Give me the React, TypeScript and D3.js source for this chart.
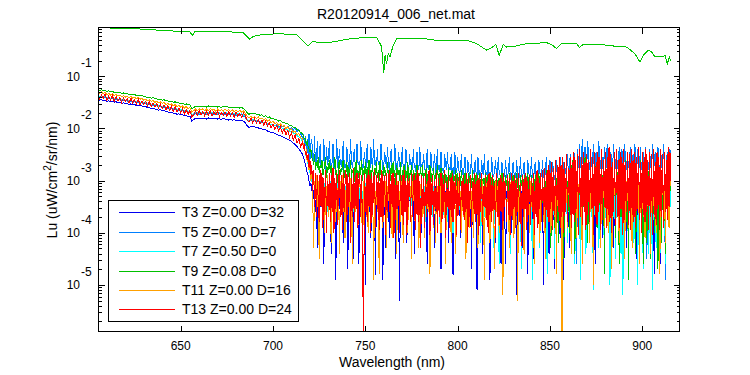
import React from 'react';
import * as d3 from 'd3';

const TITLE = 'R20120914_006_net.mat';
const X_LABEL = 'Wavelength (nm)';
const X_TICKS = [650, 700, 750, 800, 850, 900];
const Y_DECADES = [-1, -2, -3, -4, -5];
const X_DOMAIN = [605.2, 919.9];
const Y_LOG_DOMAIN = [-5.883, -0.056];

// wavelength grid of the sensor spectra (nm): 1 nm up to 715, 0.5 nm from 716
const WL = [...d3.range(605, 716, 1), ...d3.range(716, 916, 0.5)];

const LEGEND = ['T3 Z=0.00 D=32','T5 Z=0.00 D=7','T7 Z=0.50 D=0','T9 Z=0.08 D=0','T11 Z=0.00 D=16','T13 Z=0.00 D=24'];
const COLORS = ['#0000f0', '#0080ff', '#00ffff', '#00c000', '#ffa000', '#ff0000'];
const TOP_COLOR = '#00c800';

// log10(Lu) values
const t3 = [
  -1.44,-1.46,-1.45,-1.47,-1.46,-1.48,-1.47,-1.49,-1.48,-1.50,
  -1.49,-1.51,-1.50,-1.52,-1.51,-1.53,-1.52,-1.54,-1.53,-1.55,
  -1.54,-1.56,-1.55,-1.57,-1.57,-1.59,-1.58,-1.60,-1.60,-1.62,
  -1.61,-1.63,-1.63,-1.65,-1.64,-1.66,-1.66,-1.68,-1.68,-1.70,
  -1.69,-1.71,-1.71,-1.73,-1.72,-1.74,-1.74,-1.76,-1.75,-1.77,
  -1.77,-1.86,-1.83,-1.81,-1.80,-1.82,-1.80,-1.81,-1.80,-1.82,
  -1.80,-1.81,-1.80,-1.82,-1.81,-1.82,-1.81,-1.83,-1.81,-1.82,
  -1.82,-1.84,-1.83,-1.84,-1.83,-1.85,-1.84,-1.85,-1.84,-1.86,
  -1.89,-1.95,-1.98,-1.96,-1.97,-1.97,-1.99,-1.99,-2.01,-2.01,
  -2.03,-2.03,-2.05,-2.06,-2.08,-2.08,-2.10,-2.11,-2.13,-2.14,
  -2.16,-2.17,-2.19,-2.21,-2.23,-2.25,-2.28,-2.31,-2.35,-2.39,-2.44,
  -2.5,-2.55,-2.6,-2.7,-2.75,-2.85,-2.9,-3.0,-3.1,-3.05,
  -3.2,-3.1,-3.35,-3.15,-3.6,-3.2,-4.3,-3.1,-3.4,-3.2,
  -3.5,-3.1,-3.3,-4.6,-3.2,-3.45,-3.1,-3.6,-3.2,-3.35,
  -3.1,-4.4,-3.2,-3.5,-3.15,-3.3,-4.9,-3.2,-3.45,-3.1,
  -3.55,-3.2,-3.35,-3.1,-4.2,-3.2,-3.5,-3.15,-3.3,-4.7,
  -3.2,-3.4,-3.1,-3.6,-3.2,-4.5,-3.15,-3.35,-3.2,-3.5,
  -3.1,-4.6,-3.2,-3.4,-3.15,-3.55,-3.2,-3.3,-5.0,-3.1,
  -3.45,-3.2,-3.6,-3.15,-4.1,-3.2,-3.35,-3.1,-3.5,-4.8,
  -3.2,-3.4,-3.15,-4.4,-3.2,-3.6,-3.1,-4.9,-3.2,-3.35,
  -4.3,-3.15,-3.5,-3.2,-4.1,-3.1,-3.4,-3.2,-3.55,-3.15,
  -3.3,-4.5,-3.2,-3.45,-3.1,-5.3,-3.2,-3.35,-3.15,-3.6,
  -3.2,-3.4,-3.1,-4.2,-3.2,-3.5,-3.15,-3.3,-3.2,-3.55,
  -3.1,-4.4,-3.2,-3.35,-3.15,-3.6,-3.2,-3.4,-3.1,-4.0,
  -3.2,-3.5,-3.15,-3.3,-3.2,-4.6,-3.1,-3.45,-3.2,-3.35,
  -3.15,-3.6,-3.2,-4.3,-3.1,-3.4,-3.2,-3.5,-3.15,-3.3,
  -4.7,-3.2,-3.45,-3.1,-3.6,-3.2,-3.35,-3.15,-4.2,-3.2,
  -3.5,-3.1,-3.3,-4.8,-3.2,-3.45,-3.15,-3.6,-3.2,-3.35,
  -3.1,-4.1,-3.2,-3.5,-3.15,-3.3,-3.2,-4.5,-3.1,-3.4,
  -3.2,-3.55,-3.15,-4.7,-3.2,-3.35,-3.1,-3.6,-3.2,-5.1,
  -3.15,-3.45,-3.2,-3.3,-3.1,-4.4,-3.2,-3.5,-3.15,-3.35,
  -3.2,-3.6,-3.1,-4.9,-3.2,-3.4,-3.15,-3.5,-3.2,-4.2,
  -3.1,-3.35,-3.2,-3.55,-3.15,-4.6,-3.2,-3.4,-3.1,-3.6,
  -4.6,-3.2,-3.35,-3.15,-3.5,-3.2,-4.0,-3.1,-3.45,-3.2,
  -3.6,-3.15,-5.2,-3.2,-3.4,-3.1,-3.55,-3.2,-4.3,-3.15,
  -3.35,-3.2,-3.5,-3.1,-4.8,-3.2,-3.45,-3.15,-3.6,-3.2,
  -4.5,-3.1,-3.4,-3.2,-3.55,-3.15,-3.3,-4.2,-3.2,-3.5,
  -3.1,-5.0,-3.2,-3.4,-3.15,-3.6,-3.2,-4.4,-3.1,-3.35,
  -3.2,-3.55,-3.15,-4.7,-3.2,-3.4,-3.1,-3.6,-3.2,-4.1,
  -3.15,-3.45,-3.2,-4.9,-3.1,-3.5,-3.2,-3.35,-3.15,-4.3,
  -3.2,-3.6,-3.1,-3.4,-3.2,-4.5,-3.15,-3.5,-3.2,-3.3,
  -3.1,-4.2,-3.2,-3.55,-3.15,-3.4,-3.2,-3.6,-3.1,-4.0,
  -3.2,-3.45,-3.15,-3.3,-3.2,-3.55,-3.1,-4.6,-3.2,-3.4,
  -3.15,-3.6,-3.2,-3.35,-3.1,-4.1,-3.2,-3.5,-3.15,-3.4,
  -3.2,-3.55,-3.1,-3.7,-3.2,-3.4,-3.15,-4.3,-3.2,-3.5,
  -3.1,-3.45,-3.2,-3.6,-3.15,-3.35,-3.2,-3.8,-3.1,-3.5,
  -3.2,-4.3,-3.15,-3.4,-3.2,-3.55,-3.1,-3.35,-3.2,-3.6,
  -3.15,-3.4,-4.5,-3.2,-3.5,-3.1,-3.6,-3.2,-3.35,-4.0,
  -3.2,-3.55,-3.1,-3.4,-3.2,-3.6,-3.15,-3.45,-3.2,-3.5,
  -3.1,-4.8,-3.2,-3.35,-3.15,-3.55,-3.2,-3.4,-4.6,-3.2,
  -3.15,-3.5,-3.2,-3.6,-3.1,-3.4,-3.2,-3.55,-3.15,-3.3,
];
const t5 = [
  -1.39,-1.41,-1.40,-1.42,-1.41,-1.43,-1.42,-1.44,-1.43,-1.45,
  -1.44,-1.46,-1.45,-1.47,-1.46,-1.48,-1.47,-1.49,-1.48,-1.50,
  -1.49,-1.51,-1.50,-1.52,-1.51,-1.53,-1.53,-1.55,-1.54,-1.56,
  -1.55,-1.57,-1.57,-1.59,-1.58,-1.60,-1.59,-1.61,-1.61,-1.63,
  -1.62,-1.64,-1.63,-1.65,-1.65,-1.67,-1.66,-1.68,-1.67,-1.69,
  -1.69,-1.76,-1.74,-1.72,-1.71,-1.73,-1.71,-1.72,-1.71,-1.73,
  -1.71,-1.72,-1.71,-1.73,-1.72,-1.73,-1.72,-1.74,-1.72,-1.73,
  -1.72,-1.74,-1.73,-1.74,-1.73,-1.75,-1.74,-1.75,-1.74,-1.76,
  -1.79,-1.84,-1.87,-1.85,-1.86,-1.85,-1.87,-1.87,-1.89,-1.88,
  -1.90,-1.89,-1.92,-1.91,-1.93,-1.92,-1.94,-1.93,-1.96,-1.95,
  -1.97,-1.95,-2.00,-1.96,-2.01,-1.98,-2.03,-1.99,-2.06,-2.02,-2.10,
  -2.2,-2.1,-2.3,-2.15,-2.4,-2.2,-2.5,-2.1,-2.6,-2.3,
  -2.2,-2.6,-2.7,-2.15,-2.75,-2.6,-2.25,-2.7,-2.65,-2.3,
  -2.75,-2.6,-2.7,-2.2,-2.65,-2.8,-2.35,-2.7,-2.6,-2.25,
  -2.7,-2.75,-2.65,-2.3,-2.8,-2.6,-2.7,-2.2,-2.75,-2.65,
  -2.4,-2.7,-2.6,-2.8,-2.25,-2.65,-2.75,-2.7,-2.35,-2.6,
  -2.8,-2.7,-2.2,-2.65,-2.75,-2.6,-2.4,-2.7,-2.8,-2.3,
  -2.65,-2.7,-2.75,-2.25,-2.6,-2.8,-2.7,-2.45,-2.65,-2.75,
  -2.3,-2.7,-2.6,-2.8,-2.35,-2.65,-2.75,-2.2,-2.7,-2.6,
  -2.8,-2.4,-2.7,-2.65,-2.75,-2.3,-2.6,-2.8,-2.7,-2.45,
  -2.65,-2.75,-2.35,-2.7,-2.8,-2.6,-2.4,-2.75,-2.7,-2.65,
  -2.3,-2.8,-2.7,-2.75,-2.45,-2.65,-2.8,-2.7,-2.35,-2.75,
  -2.7,-2.8,-2.4,-2.65,-2.75,-2.8,-2.5,-2.7,-2.65,-2.8,
  -2.4,-2.75,-2.7,-2.85,-2.45,-2.7,-2.8,-2.35,-2.75,-2.7,
  -2.8,-2.5,-2.7,-2.85,-2.75,-2.4,-2.8,-2.7,-2.85,-2.45,
  -2.75,-2.8,-2.7,-2.5,-2.85,-2.75,-2.4,-2.8,-2.7,-2.85,
  -2.45,-2.75,-2.8,-2.85,-2.5,-2.7,-2.8,-2.45,-2.85,-2.75,
  -2.8,-2.5,-2.85,-2.75,-2.9,-2.45,-2.8,-2.85,-2.55,-2.75,
  -2.9,-2.8,-2.5,-2.85,-2.9,-2.75,-2.55,-2.85,-2.9,-2.6,
  -2.8,-2.9,-2.85,-2.5,-2.95,-2.8,-2.9,-2.6,-2.85,-2.95,
  -2.55,-2.9,-2.8,-2.95,-2.6,-2.85,-2.9,-2.5,-2.95,-2.85,
  -2.9,-2.6,-2.95,-2.85,-2.9,-2.55,-2.95,-2.9,-2.85,-2.6,
  -2.9,-2.95,-2.55,-2.85,-2.9,-3.0,-2.65,-2.9,-2.95,-2.85,
  -2.6,-2.95,-2.9,-2.85,-2.55,-2.95,-3.0,-2.9,-2.65,-2.85,
  -2.95,-2.9,-2.6,-3.0,-2.85,-2.95,-2.55,-2.9,-2.95,-2.85,
  -2.65,-2.95,-2.9,-3.0,-2.6,-2.85,-2.95,-2.9,-2.55,-2.95,
  -2.9,-2.85,-2.65,-2.95,-3.0,-2.9,-2.6,-2.85,-2.95,-2.9,
  -2.6,-2.95,-2.85,-2.9,-2.55,-3.0,-2.9,-2.85,-2.6,-2.95,
  -2.9,-2.65,-2.85,-2.95,-2.9,-2.6,-2.95,-2.85,-2.9,-2.55,
  -2.9,-2.85,-2.95,-2.65,-2.9,-2.8,-2.85,-2.5,-2.9,-2.8,
  -2.5,-2.8,-2.75,-2.85,-2.45,-2.8,-2.7,-4.6,-2.4,-2.75,
  -2.3,-2.75,-2.7,-2.2,-2.8,-2.7,-2.35,-2.75,-2.65,-2.25,
  -2.7,-2.8,-2.4,-2.7,-2.75,-2.3,-2.8,-2.7,-2.45,-2.75,
  -2.7,-2.25,-2.8,-2.7,-2.4,-2.75,-2.8,-2.35,-2.7,-2.75,
  -2.3,-2.8,-2.7,-4.8,-2.45,-2.75,-2.7,-2.3,-2.8,-2.75,
  -2.45,-2.7,-2.8,-2.35,-2.75,-2.7,-2.4,-2.8,-2.75,-2.3,
  -2.7,-2.8,-2.45,-2.75,-2.7,-2.35,-2.8,-2.75,-2.5,-2.7,
  -2.3,-2.75,-2.8,-2.4,-2.7,-2.75,-2.35,-2.8,-2.7,-2.45,
  -2.75,-2.7,-2.35,-4.5,-2.8,-2.75,-2.4,-2.7,-2.8,-2.3,
  -2.75,-2.7,-2.45,-2.8,-2.75,-2.35,-2.7,-2.8,-2.4,-2.75,
  -2.7,-2.3,-2.8,-4.9,-2.75,-2.45,-2.7,-2.8,-2.4,-2.6,
];
const t7 = [
  -1.37,-1.39,-1.38,-1.40,-1.39,-1.41,-1.40,-1.42,-1.41,-1.43,
  -1.42,-1.44,-1.43,-1.45,-1.44,-1.46,-1.45,-1.47,-1.46,-1.48,
  -1.47,-1.49,-1.48,-1.50,-1.49,-1.51,-1.51,-1.53,-1.52,-1.54,
  -1.53,-1.55,-1.55,-1.57,-1.56,-1.58,-1.57,-1.59,-1.59,-1.61,
  -1.60,-1.62,-1.61,-1.63,-1.63,-1.65,-1.64,-1.66,-1.65,-1.67,
  -1.67,-1.74,-1.72,-1.70,-1.69,-1.71,-1.69,-1.70,-1.69,-1.71,
  -1.69,-1.70,-1.69,-1.71,-1.70,-1.71,-1.70,-1.72,-1.70,-1.71,
  -1.70,-1.72,-1.71,-1.72,-1.71,-1.73,-1.72,-1.73,-1.72,-1.74,
  -1.77,-1.82,-1.85,-1.83,-1.84,-1.83,-1.85,-1.85,-1.87,-1.86,
  -1.89,-1.88,-1.91,-1.90,-1.93,-1.92,-1.95,-1.95,-1.98,-1.97,
  -2.00,-2.00,-2.03,-2.03,-2.06,-2.06,-2.10,-2.10,-2.14,-2.16,-2.20,
  -2.25,-2.3,-2.4,-2.45,-2.55,-2.6,-2.7,-2.75,-2.85,-2.9,
  -3.0,-3.1,-2.95,-3.2,-3.05,-3.3,-3.0,-3.25,-3.1,-3.4,
  -3.0,-3.3,-3.1,-3.5,-3.05,-3.35,-3.2,-3.6,-3.1,-3.3,
  -3.0,-3.45,-3.15,-3.3,-3.05,-3.55,-3.2,-3.35,-3.0,-3.5,
  -3.15,-3.4,-3.05,-3.6,-3.2,-3.3,-3.1,-3.5,-3.0,-3.4,
  -3.2,-3.55,-3.05,-3.35,-3.15,-3.6,-3.1,-3.3,-3.2,-3.5,
  -3.05,-3.4,-3.15,-3.65,-3.1,-3.35,-3.2,-3.5,-3.05,-3.45,
  -3.15,-3.6,-3.1,-3.3,-3.2,-3.55,-3.05,-3.4,-3.15,-3.7,
  -3.1,-3.35,-3.2,-3.5,-3.05,-3.45,-3.15,-3.6,-3.1,-3.4,
  -3.2,-3.55,-3.1,-3.3,-3.15,-3.65,-3.05,-3.4,-3.2,-3.5,
  -3.1,-3.45,-3.2,-3.7,-3.1,-3.35,-3.15,-3.55,-3.05,-3.4,
  -3.2,-3.6,-3.1,-3.4,-3.15,-3.5,-3.1,-3.75,-3.2,-3.35,
  -3.1,-3.5,-3.2,-3.4,-3.05,-3.65,-3.15,-3.45,-3.1,-3.6,
  -3.2,-3.4,-3.1,-3.8,-3.15,-3.5,-3.2,-3.35,-3.1,-3.55,
  -3.15,-3.7,-3.1,-3.45,-3.2,-3.6,-3.1,-3.4,-3.2,-3.9,
  -3.1,-3.5,-3.2,-3.65,-3.15,-3.4,-3.1,-3.8,-3.2,-3.5,
  -3.15,-3.6,-3.1,-4.0,-3.2,-3.45,-3.15,-3.7,-3.1,-3.5,
  -3.2,-3.85,-3.15,-3.5,-3.1,-3.65,-3.2,-4.1,-3.15,-3.45,
  -3.1,-3.7,-3.2,-3.5,-3.15,-3.95,-3.1,-3.6,-3.2,-3.45,
  -3.15,-3.8,-3.1,-4.2,-3.2,-3.55,-3.15,-3.7,-3.1,-3.5,
  -3.2,-3.5,-3.15,-3.6,-3.1,-3.45,-3.2,-4.3,-3.15,-3.6,
  -3.1,-3.55,-3.2,-4.6,-3.15,-3.5,-3.1,-3.7,-3.2,-3.4,
  -3.15,-3.6,-3.1,-3.45,-3.2,-4.4,-3.15,-3.55,-3.1,-3.5,
  -3.2,-3.6,-3.15,-3.4,-3.1,-3.65,-3.2,-4.7,-3.15,-3.5,
  -3.1,-3.45,-3.2,-3.7,-3.15,-3.5,-3.1,-3.6,-3.2,-4.9,
  -3.15,-3.6,-3.1,-3.45,-3.2,-3.75,-3.15,-4.3,-3.1,-3.5,
  -3.2,-3.65,-3.15,-3.5,-3.1,-4.8,-3.2,-3.55,-3.1,-3.6,
  -3.15,-3.45,-3.1,-4.5,-3.2,-3.6,-3.05,-3.5,-3.15,-3.7,
  -3.1,-4.7,-3.15,-3.55,-3.05,-3.6,-3.1,-4.2,-3.15,-3.5,
  -3.05,-3.65,-3.15,-3.5,-3.1,-4.6,-3.05,-3.55,-3.15,-3.7,
  -3.1,-4.9,-3.05,-3.6,-3.15,-3.5,-3.1,-4.4,-3.05,-3.65,
  -3.15,-3.55,-3.1,-3.7,-3.05,-5.1,-3.15,-3.5,-3.1,-3.6,
  -3.05,-4.3,-3.15,-3.55,-3.1,-3.65,-3.05,-4.8,-3.15,-3.5,
  -3.1,-3.6,-3.05,-5.0,-3.15,-3.55,-3.1,-3.7,-3.05,-4.5,
  -3.15,-3.6,-3.1,-3.5,-3.05,-4.4,-3.15,-5.2,-3.1,-3.6,
  -3.05,-3.55,-3.15,-4.6,-3.1,-3.7,-3.05,-3.5,-3.15,-4.2,
  -3.1,-3.6,-3.05,-5.0,-3.15,-3.55,-3.1,-3.65,-3.05,-4.7,
  -3.15,-3.5,-3.1,-3.7,-3.05,-4.4,-3.15,-3.6,-3.1,-5.1,
  -3.05,-3.55,-3.15,-4.3,-3.1,-3.65,-3.05,-4.8,-3.15,-3.5,
  -3.1,-3.6,-3.05,-4.6,-3.15,-3.55,-3.1,-3.7,-3.05,-3.5,
];
const t9 = [
  -1.25,-1.27,-1.26,-1.28,-1.27,-1.29,-1.28,-1.30,-1.29,-1.31,
  -1.30,-1.32,-1.31,-1.33,-1.32,-1.34,-1.33,-1.35,-1.34,-1.36,
  -1.35,-1.37,-1.36,-1.38,-1.37,-1.39,-1.39,-1.41,-1.40,-1.42,
  -1.41,-1.43,-1.43,-1.45,-1.44,-1.46,-1.45,-1.47,-1.47,-1.49,
  -1.48,-1.50,-1.49,-1.51,-1.51,-1.53,-1.52,-1.54,-1.53,-1.55,
  -1.55,-1.62,-1.60,-1.58,-1.57,-1.59,-1.57,-1.58,-1.57,-1.59,
  -1.57,-1.58,-1.57,-1.59,-1.58,-1.59,-1.58,-1.60,-1.58,-1.59,
  -1.58,-1.60,-1.59,-1.60,-1.59,-1.61,-1.60,-1.61,-1.60,-1.62,
  -1.65,-1.70,-1.73,-1.71,-1.72,-1.71,-1.73,-1.73,-1.75,-1.74,
  -1.77,-1.76,-1.79,-1.78,-1.81,-1.80,-1.83,-1.83,-1.86,-1.85,
  -1.88,-1.88,-1.91,-1.91,-1.94,-1.94,-1.98,-1.98,-2.02,-2.04,-2.08,
  -2.1,-2.15,-2.2,-2.2,-2.3,-2.25,-2.35,-2.4,-2.45,-2.4,
  -2.55,-2.6,-2.7,-2.5,-2.8,-2.65,-2.75,-2.55,-2.85,-2.7,
  -2.75,-2.6,-2.9,-2.8,-2.7,-2.55,-2.95,-2.75,-2.8,-2.6,
  -2.85,-2.7,-3.0,-2.8,-2.75,-2.55,-2.9,-2.8,-3.05,-2.7,
  -2.6,-2.9,-2.8,-2.75,-2.6,-2.95,-2.8,-2.85,-2.65,-3.0,
  -2.75,-2.9,-2.6,-2.95,-2.8,-2.85,-2.75,-3.1,-2.6,-2.85,
  -2.8,-2.95,-2.7,-2.9,-2.6,-3.0,-2.8,-2.85,-2.65,-2.95,
  -2.75,-2.9,-2.6,-3.0,-2.8,-2.85,-2.7,-3.1,-2.75,-2.9,
  -2.65,-2.95,-2.8,-3.0,-2.6,-2.9,-2.8,-2.95,-2.7,-2.85,
  -2.8,-3.05,-2.65,-2.9,-2.85,-3.0,-2.7,-2.9,-2.65,-2.95,
  -2.8,-3.1,-2.7,-2.9,-2.8,-3.0,-2.65,-3.15,-2.8,-2.9,
  -2.7,-3.0,-2.8,-2.95,-2.65,-3.05,-2.85,-2.9,-2.7,-3.0,
  -2.8,-2.95,-2.85,-3.1,-2.7,-3.0,-2.85,-2.9,-2.75,-3.05,
  -2.7,-3.0,-2.85,-2.95,-2.75,-3.15,-2.85,-3.0,-2.7,-3.05,
  -2.85,-2.95,-2.75,-3.1,-2.85,-3.0,-2.7,-2.95,-2.85,-3.2,
  -2.75,-3.0,-2.85,-3.1,-2.8,-3.05,-2.9,-3.15,-2.75,-3.0,
  -2.85,-3.05,-2.8,-3.25,-2.9,-3.0,-2.8,-3.1,-2.85,-3.05,
  -2.9,-3.1,-2.8,-3.0,-2.95,-3.2,-2.85,-3.05,-2.9,-3.3,
  -2.85,-3.05,-2.95,-3.15,-2.8,-3.1,-2.9,-3.25,-2.85,-3.05,
  -2.95,-3.1,-2.85,-3.3,-2.9,-3.05,-2.95,-3.15,-2.85,-3.1,
  -2.9,-3.2,-2.95,-3.05,-2.85,-3.35,-2.9,-3.1,-3.0,-3.15,
  -2.85,-3.1,-2.95,-3.4,-2.9,-3.15,-2.85,-3.05,-3.0,-3.25,
  -2.9,-3.1,-2.95,-3.3,-2.85,-3.15,-3.0,-3.5,-2.9,-3.1,
  -2.95,-3.2,-2.85,-3.15,-3.0,-3.35,-2.9,-3.1,-2.95,-3.6,
  -2.9,-3.15,-3.0,-3.3,-2.85,-3.2,-2.95,-3.7,-2.9,-3.15,
  -3.0,-3.3,-2.9,-3.15,-2.95,-3.4,-2.85,-3.25,-3.0,-3.8,
  -2.85,-3.4,-2.95,-3.6,-2.8,-3.3,-2.9,-3.8,-2.85,-4.3,
  -2.8,-3.5,-2.75,-3.9,-2.85,-3.4,-2.7,-4.2,-2.8,-3.6,
  -2.75,-3.3,-2.7,-4.5,-2.8,-3.6,-2.65,-3.4,-2.75,-4.0,
  -2.7,-3.7,-2.6,-3.35,-2.75,-4.4,-2.65,-3.5,-2.7,-3.9,
  -2.6,-3.4,-2.7,-4.6,-2.65,-3.6,-2.55,-3.3,-2.7,-4.2,
  -2.65,-3.8,-2.6,-3.45,-2.7,-4.7,-2.6,-3.5,-2.65,-3.9,
  -2.6,-3.6,-2.7,-4.3,-2.55,-3.4,-2.65,-4.8,-2.6,-3.5,
  -2.7,-3.9,-2.6,-3.45,-2.65,-4.4,-2.7,-3.6,-2.55,-4.1,
  -2.65,-3.5,-2.6,-4.6,-2.7,-3.7,-2.6,-3.4,-2.65,-4.3,
  -2.6,-3.8,-2.7,-4.9,-2.65,-3.5,-2.6,-4.0,-2.7,-3.6,
  -2.65,-4.4,-2.6,-3.5,-2.7,-4.1,-2.6,-3.7,-2.65,-4.6,
  -2.7,-3.6,-2.6,-4.2,-2.65,-3.4,-2.7,-4.5,-2.6,-3.8,
  -2.65,-4.0,-2.7,-3.5,-2.6,-4.7,-2.65,-3.6,-2.7,-4.2,
  -2.6,-3.7,-2.65,-4.4,-2.7,-3.5,-2.6,-3.9,-2.65,-3.2,
];
const t11 = [
  -1.29,-1.33,-1.30,-1.34,-1.31,-1.35,-1.33,-1.36,-1.34,-1.37,
  -1.35,-1.38,-1.36,-1.39,-1.37,-1.40,-1.38,-1.41,-1.39,-1.42,
  -1.40,-1.43,-1.41,-1.44,-1.42,-1.46,-1.44,-1.47,-1.45,-1.48,
  -1.46,-1.50,-1.48,-1.51,-1.49,-1.52,-1.50,-1.54,-1.52,-1.55,
  -1.53,-1.57,-1.54,-1.58,-1.56,-1.59,-1.57,-1.61,-1.58,-1.62,
  -1.60,-1.69,-1.66,-1.63,-1.66,-1.62,-1.65,-1.62,-1.66,-1.63,
  -1.66,-1.62,-1.65,-1.63,-1.67,-1.63,-1.66,-1.64,-1.67,-1.63,
  -1.66,-1.64,-1.67,-1.64,-1.68,-1.65,-1.68,-1.65,-1.69,-1.66,
  -1.71,-1.77,-1.80,-1.77,-1.80,-1.77,-1.81,-1.78,-1.82,-1.80,
  -1.84,-1.81,-1.86,-1.84,-1.89,-1.86,-1.91,-1.89,-1.94,-1.91,
  -1.96,-1.94,-2.00,-1.97,-2.03,-2.01,-2.07,-2.05,-2.12,-2.10,-2.18,
  -2.2,-2.35,-2.3,-2.5,-2.4,-2.65,-2.55,-2.8,-2.7,-3.0,
  -2.8,-3.3,-4.3,-3.0,-3.2,-2.9,-3.5,-3.0,-4.5,-3.1,
  -3.4,-2.95,-3.6,-3.1,-4.0,-3.0,-3.3,-2.9,-3.7,-3.1,
  -3.2,-4.2,-3.0,-3.5,-2.95,-3.3,-3.8,-3.0,-3.4,-3.1,
  -4.4,-3.0,-3.3,-2.9,-3.6,-3.1,-4.1,-3.2,-3.0,-3.5,
  -3.1,-3.8,-2.95,-3.4,-4.6,-3.0,-3.2,-3.6,-3.0,-3.3,
  -3.9,-3.1,-3.0,-3.5,-3.2,-4.7,-3.0,-3.4,-3.1,-3.7,
  -3.0,-4.0,-3.2,-3.3,-3.0,-3.8,-3.1,-4.9,-3.0,-3.4,
  -3.2,-3.6,-3.0,-4.8,-3.1,-3.3,-3.0,-3.9,-3.2,-3.5,
  -3.0,-4.3,-3.1,-3.4,-3.0,-3.7,-3.2,-4.1,-3.0,-3.3,
  -3.5,-3.1,-4.4,-3.0,-3.3,-3.2,-3.8,-3.0,-3.4,-4.2,
  -3.1,-3.0,-3.6,-3.2,-4.0,-3.0,-3.3,-3.1,-4.5,-3.0,
  -3.4,-3.2,-3.9,-3.0,-3.5,-3.1,-4.3,-3.0,-3.3,-3.2,
  -3.7,-3.0,-4.1,-3.1,-3.4,-3.0,-3.6,-3.2,-4.8,-3.0,
  -3.3,-3.1,-3.9,-3.0,-4.2,-3.2,-3.4,-3.0,-3.7,-3.1,
  -4.0,-3.0,-3.5,-3.2,-3.3,-4.6,-3.0,-3.4,-3.1,-3.8,
  -3.0,-4.2,-3.2,-3.5,-3.0,-3.3,-4.4,-3.1,-3.6,-3.0,
  -3.4,-3.2,-4.0,-3.0,-3.7,-3.1,-3.3,-4.5,-3.0,-3.5,
  -3.1,-3.9,-3.0,-3.4,-3.2,-4.1,-3.0,-3.6,-3.1,-3.3,
  -4.3,-3.0,-3.5,-3.2,-3.8,-3.0,-3.4,-4.9,-3.1,-3.3,
  -3.0,-3.7,-3.2,-4.2,-3.0,-3.5,-3.1,-3.4,-4.7,-3.0,
  -3.6,-3.1,-3.3,-4.0,-3.0,-3.5,-3.2,-5.2,-3.0,-3.4,
  -3.1,-3.8,-3.0,-3.4,-4.3,-3.2,-3.0,-3.6,-3.1,-4.1,
  -3.0,-3.5,-3.2,-5.3,-3.0,-3.4,-3.1,-3.9,-3.0,-3.6,
  -4.4,-3.1,-3.3,-3.0,-3.7,-3.2,-4.0,-3.0,-3.5,-3.1,
  -3.4,-4.6,-3.0,-3.6,-3.1,-3.3,-3.0,-4.2,-3.2,-3.5,
  -3.0,-3.8,-3.1,-4.5,-2.9,-3.4,-3.0,-3.6,-2.9,-4.0,
  -3.1,-3.3,-2.9,-3.7,-3.0,-4.8,-2.8,-3.5,-3.0,-3.3,
  -2.9,-6.2,-3.0,-3.6,-2.8,-3.4,-3.0,-3.9,-2.8,-3.5,
  -3.0,-4.4,-2.7,-3.3,-2.9,-3.7,-2.8,-4.1,-2.9,-3.4,
  -2.7,-3.6,-2.9,-4.6,-2.8,-3.3,-2.7,-3.9,-3.0,-3.5,
  -2.8,-4.2,-2.7,-3.4,-2.9,-5.0,-2.8,-3.6,-2.7,-3.8,
  -2.9,-3.3,-2.7,-4.3,-2.8,-3.5,-2.6,-3.9,-2.9,-3.4,
  -2.7,-4.0,-2.8,-3.6,-2.7,-4.7,-2.9,-3.3,-2.8,-3.8,
  -2.7,-3.5,-2.9,-4.2,-2.8,-3.4,-2.7,-3.7,-2.9,-4.5,
  -2.8,-3.3,-2.7,-3.9,-2.9,-3.6,-2.8,-4.3,-2.7,-3.5,
  -2.9,-3.8,-2.8,-3.4,-2.7,-4.6,-2.9,-3.5,-2.8,-3.7,
  -2.7,-4.1,-2.8,-3.6,-2.9,-3.3,-2.7,-4.4,-2.8,-3.5,
  -2.9,-3.7,-2.7,-4.0,-2.8,-3.4,-2.9,-4.8,-2.7,-3.6,
  -2.8,-3.5,-2.9,-4.2,-2.7,-3.7,-2.8,-3.9,-2.9,-3.1,
];
const t13 = [
  -1.33,-1.44,-1.36,-1.42,-1.34,-1.46,-1.38,-1.45,-1.37,-1.48,
  -1.39,-1.47,-1.40,-1.50,-1.41,-1.48,-1.43,-1.52,-1.42,-1.51,
  -1.45,-1.53,-1.44,-1.55,-1.47,-1.54,-1.48,-1.57,-1.49,-1.58,
  -1.51,-1.59,-1.52,-1.61,-1.54,-1.62,-1.55,-1.64,-1.57,-1.65,
  -1.58,-1.67,-1.59,-1.69,-1.61,-1.70,-1.62,-1.72,-1.64,-1.73,
  -1.66,-1.78,-1.74,-1.67,-1.75,-1.66,-1.74,-1.68,-1.76,-1.67,
  -1.75,-1.66,-1.76,-1.68,-1.74,-1.67,-1.77,-1.69,-1.75,-1.68,
  -1.77,-1.68,-1.76,-1.70,-1.78,-1.69,-1.77,-1.71,-1.79,-1.70,
  -1.76,-1.84,-1.88,-1.80,-1.89,-1.81,-1.90,-1.83,-1.91,-1.84,
  -1.94,-1.86,-1.96,-1.89,-1.99,-1.91,-2.02,-1.94,-2.05,-1.97,
  -2.09,-2.00,-2.12,-2.04,-2.17,-2.08,-2.22,-2.13,-2.28,-2.20,-2.35,
  -2.25,-2.4,-2.3,-2.5,-2.45,-2.6,-2.5,-2.75,-2.6,-2.9,
  -2.7,-3.2,-2.8,-3.5,-2.85,-3.7,-2.9,-3.4,-3.8,-2.8,
  -3.5,-2.85,-3.9,-2.95,-3.6,-2.8,-4.0,-3.0,-3.5,-2.85,
  -3.8,-2.9,-3.6,-2.75,-4.0,-2.95,-3.55,-2.85,-3.85,-3.0,
  -2.8,-3.7,-2.9,-3.95,-2.85,-3.6,-3.05,-2.8,-3.8,-2.9,
  -3.5,-2.85,-4.2,-2.95,-3.7,-2.75,-3.8,-2.9,-3.55,-2.85,
  -3.9,-3.0,-2.85,-3.7,-2.9,-4.0,-6.5,-2.85,-3.6,-2.95,
  -3.8,-2.8,-3.5,-2.9,-4.0,-2.85,-3.65,-3.0,-2.8,-3.9,
  -2.9,-3.55,-2.85,-3.95,-2.95,-3.7,-2.8,-3.8,-3.05,-2.9,
  -4.05,-2.85,-3.6,-3.0,-2.8,-3.9,-2.9,-3.5,-2.85,-4.1,
  -2.95,-3.75,-2.85,-3.55,-3.0,-4.0,-2.9,-3.65,-2.9,-3.85,
  -2.8,-3.6,-3.0,-4.05,-2.9,-3.5,-2.95,-3.8,-2.85,-3.7,
  -3.05,-2.85,-3.95,-2.9,-3.65,-2.8,-3.8,-3.0,-4.3,-2.9,
  -3.55,-2.95,-3.9,-2.85,-3.7,-3.0,-3.5,-2.8,-4.05,-2.95,
  -3.65,-2.9,-3.85,-3.0,-3.55,-2.85,-4.0,-2.95,-3.7,-3.05,
  -2.85,-3.8,-2.95,-3.6,-2.8,-4.1,-3.0,-3.5,-2.9,-3.9,
  -2.95,-3.7,-2.85,-3.8,-3.0,-3.55,-2.9,-4.05,-2.95,-3.65,
  -2.85,-3.95,-3.0,-3.5,-2.9,-3.75,-3.05,-3.6,-2.85,-4.2,
  -2.95,-3.7,-2.9,-3.9,-3.0,-3.55,-2.85,-3.8,-3.0,-3.65,
  -2.9,-4.05,-2.95,-3.6,-2.85,-3.85,-3.1,-3.5,-2.9,-3.75,
  -3.0,-4.0,-2.85,-3.65,-2.95,-3.8,-2.9,-3.55,-3.05,-4.1,
  -2.85,-3.7,-3.0,-3.85,-2.9,-3.6,-2.95,-3.95,-2.85,-3.5,
  -3.05,-3.8,-2.9,-3.65,-2.95,-4.05,-2.85,-3.75,-3.0,-3.55,
  -2.9,-3.9,-2.95,-3.6,-2.85,-3.8,-3.05,-4.25,-2.9,-3.7,
  -2.95,-3.55,-2.85,-3.95,-3.0,-3.65,-2.9,-3.85,-2.95,-3.6,
  -2.85,-4.05,-3.0,-3.7,-2.8,-3.9,-2.95,-3.55,-2.85,-3.8,
  -2.8,-3.65,-2.75,-3.9,-2.85,-3.7,-2.7,-3.8,-2.8,-3.55,
  -2.65,-3.95,-2.75,-3.65,-2.6,-3.8,-2.7,-3.6,-2.55,-3.9,
  -2.7,-3.7,-2.55,-4.0,-2.65,-3.6,-2.5,-3.8,-2.75,-3.5,
  -2.55,-3.9,-2.65,-3.65,-2.45,-3.8,-2.6,-3.55,-2.5,-4.05,
  -2.4,-3.7,-2.55,-3.85,-2.45,-3.6,-2.65,-3.95,-2.5,-3.65,
  -2.6,-3.8,-2.4,-3.55,-2.55,-4.05,-2.45,-3.7,-2.65,-3.85,
  -2.45,-3.6,-2.55,-3.95,-2.4,-3.75,-2.6,-3.5,-2.45,-3.9,
  -2.55,-3.65,-2.35,-3.8,-2.5,-4.0,-2.65,-3.6,-2.45,-3.85,
  -2.4,-3.7,-2.6,-3.9,-2.45,-3.55,-2.55,-4.05,-2.4,-3.75,
  -2.65,-3.6,-2.45,-3.85,-2.5,-3.95,-2.4,-3.65,-2.6,-3.8,
  -2.45,-3.9,-2.55,-3.55,-2.35,-3.75,-2.65,-4.0,-2.45,-3.65,
  -2.55,-3.8,-2.4,-3.6,-2.6,-3.95,-2.45,-3.7,-2.5,-4.05,
  -2.4,-3.65,-2.65,-3.85,-2.45,-3.55,-2.55,-3.95,-2.4,-3.7,
  -2.5,-3.9,-2.45,-3.6,-2.6,-3.75,-2.35,-3.5,-2.45,-3.0,
];
const SERIES = [t3, t5, t7, t9, t11, t13];

// upper reference spectrum: read-off wavelengths and log10 values
const topWl = [
  605.2, 611.5, 620, 627.8, 635, 642, 649.5, 654.9, 656.3, 657.6, 662, 669.3, 676, 683.8,
  687.4, 689.2, 694.6, 700, 706, 712.7, 716.3, 719, 721.7, 725.3, 728.9, 734.4, 740, 745.2,
  750, 756.1, 758.8, 760, 760.7, 761.5, 762.4, 763.3, 765.1, 766.9, 772.3, 781.3, 788.6,
  799.4, 806.6, 810.3, 815.7, 818.4, 820.7, 822.5, 824.7, 826.5, 830.1, 837.4, 848.2,
  850.9, 853.6, 856.3, 864.5, 865.9, 868, 877.1, 884.3, 891.6, 896.1, 898.8, 900.6, 903.3,
  905.1, 906.9, 910.5, 912.3, 913.6, 914.7, 915.4,
];
const topLog = [
  -0.056, -0.075, -0.085, -0.094, -0.11, -0.125, -0.14, -0.14, -0.22, -0.15, -0.14, -0.14, -0.15, -0.16,
  -0.29, -0.236, -0.2, -0.19, -0.19, -0.2, -0.33, -0.415, -0.33, -0.36, -0.36, -0.33, -0.29, -0.27,
  -0.26, -0.25, -0.43, -0.94, -0.6, -0.76, -0.57, -0.63, -0.41, -0.28, -0.267, -0.275, -0.313,
  -0.313, -0.325, -0.376, -0.5, -0.45, -0.39, -0.6, -0.39, -0.44, -0.43, -0.376, -0.357,
  -0.39, -0.47, -0.376, -0.376, -0.45, -0.39, -0.39, -0.42, -0.44, -0.57, -0.73, -0.6, -0.5,
  -0.535, -0.63, -0.63, -0.6, -0.76, -0.63, -0.71,
];

const FONT = 'Arial, "Liberation Sans", Helvetica, sans-serif';

export default function App() {
  const W = 750, H = 375;
  const L = 98, T = 27, R = 679, B = 331;
  const x = d3.scaleLinear().domain(X_DOMAIN).range([L, R]);
  const y = d3.scaleLog().domain([10 ** Y_LOG_DOMAIN[0], 10 ** Y_LOG_DOMAIN[1]]).range([B, T]);
  const line = d3.line<[number, number]>()
    .defined(d => d[1] !== undefined && !Number.isNaN(d[1]))
    .x(d => x(d[0]))
    .y(d => y(10 ** d[1]));

  const minor: number[] = [];
  for (let d = -6; d <= -1; d++) {
    for (let k = 2; k <= 9; k++) {
      const v = k * 10 ** d;
      const lv = Math.log10(v);
      if (lv > Y_LOG_DOMAIN[0] && lv < Y_LOG_DOMAIN[1]) minor.push(v);
    }
  }
  const px = (v: number) => Math.round(v) + 0.5;
  const rowY0 = 212.3, rowDy = 19.4;

  return (
    <svg width={W} height={H} style={{ position: 'absolute', left: 0, top: 0, background: '#fff' }} fontFamily={FONT}>
      <defs>
        <clipPath id="plotclip"><rect x={L} y={T} width={R - L + 1} height={B - T + 1} /></clipPath>
      </defs>
      <rect x={0} y={0} width={W} height={H} fill="#fff" />
      <g clipPath="url(#plotclip)" fill="none" strokeWidth={1} shapeRendering="crispEdges">
        <path d={line(topWl.map((w, i) => [w, topLog[i]]) as any) || ''} stroke={TOP_COLOR} />
        {SERIES.map((s, si) => (
          <path key={si} d={line(WL.map((w, i) => [w, s[i]]) as any) || ''} stroke={COLORS[si]} />
        ))}
      </g>
      <rect x={L + 0.5} y={T + 0.5} width={R - L} height={B - T} fill="none" stroke="#000" shapeRendering="crispEdges" />
      <g stroke="#000" shapeRendering="crispEdges">
        {X_TICKS.map(t => (
          <g key={t}>
            <line x1={px(x(t))} x2={px(x(t))} y1={B + 0.5} y2={B + 0.5 - 6} />
            <line x1={px(x(t))} x2={px(x(t))} y1={T + 0.5} y2={T + 0.5 + 6} />
          </g>
        ))}
        {Y_DECADES.map(d => (
          <g key={d}>
            <line x1={L + 0.5} x2={L + 0.5 + 6} y1={px(y(10 ** d))} y2={px(y(10 ** d))} />
            <line x1={R + 0.5} x2={R + 0.5 - 6} y1={px(y(10 ** d))} y2={px(y(10 ** d))} />
          </g>
        ))}
        {minor.map((v, i) => (
          <g key={i}>
            <line x1={L + 0.5} x2={L + 0.5 + 3} y1={px(y(v))} y2={px(y(v))} />
            <line x1={R + 0.5} x2={R + 0.5 - 3} y1={px(y(v))} y2={px(y(v))} />
          </g>
        ))}
      </g>
      <g fontSize={12} fill="#000">
        {X_TICKS.map(t => (<text key={t} x={x(t)} y={350} textAnchor="middle">{t}</text>))}
        {Y_DECADES.map(d => (
          <g key={d}>
            <text x={80} y={y(10 ** d) + 4.5} textAnchor="end">10</text>
            <text x={81} y={y(10 ** d) - 9} textAnchor="start">{String(d)}</text>
          </g>
        ))}
      </g>
      <text x={396} y={18.5} textAnchor="middle" fontSize={14}>{TITLE}</text>
      <text x={392} y={367} textAnchor="middle" fontSize={14}>{X_LABEL}</text>
      <text transform="translate(56.5,180) rotate(-90)" textAnchor="middle" fontSize={14}>
        Lu (uW/cm<tspan fontSize={10} dy={-6}>2</tspan><tspan dy={6}>/sr/nm)</tspan>
      </text>
      <rect x={108.5} y={200.5} width={190} height={121} fill="#fff" stroke="#000" shapeRendering="crispEdges" />
      {LEGEND.map((lab, i) => {
        const ry = rowY0 + i * rowDy;
        return (
          <g key={lab}>
            <line x1={119} x2={175} y1={px(ry)} y2={px(ry)} stroke={COLORS[i]} shapeRendering="crispEdges" />
            <text x={182} y={ry + 5} fontSize={14}>{lab}</text>
          </g>
        );
      })}
    </svg>
  );
}
